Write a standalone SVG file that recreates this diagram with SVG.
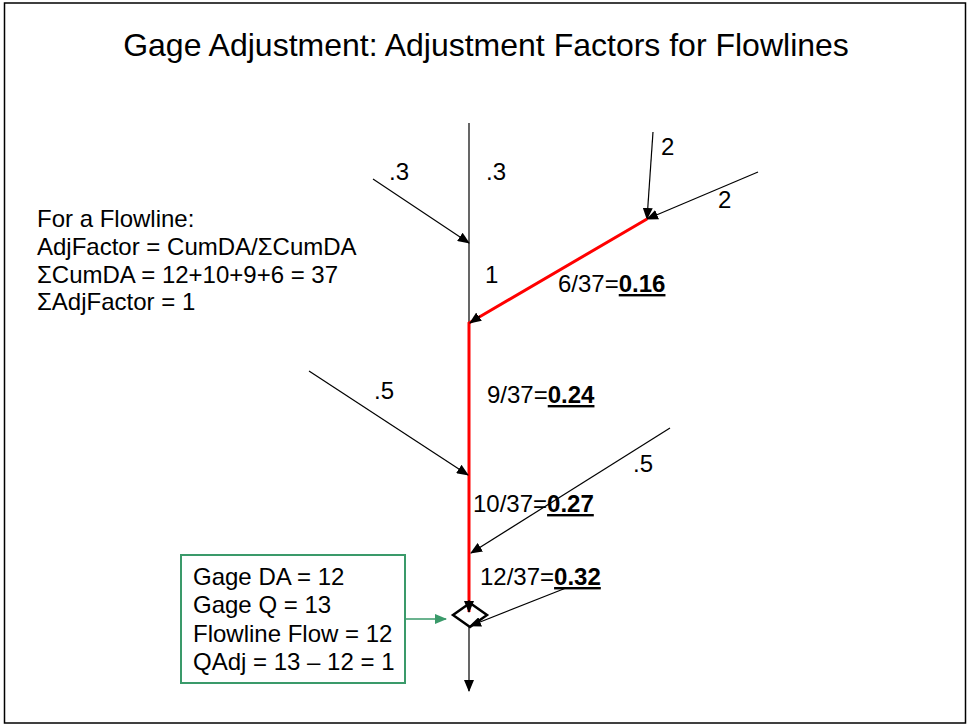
<svg xmlns="http://www.w3.org/2000/svg" width="967" height="725" viewBox="0 0 967 725">
<style>
text{font-family:"Liberation Sans",Arial,sans-serif;fill:#000}
.t{font-size:32px}
.l{font-size:24px}
.b{font-weight:bold;text-decoration:underline}
.ln{stroke:#000;stroke-width:1.2;fill:none}
.red{stroke:#ff0000;stroke-width:3;fill:none}
</style>
<defs>
<marker id="ah" markerUnits="userSpaceOnUse" markerWidth="12" markerHeight="10" viewBox="0 0 12 10" refX="11" refY="5" orient="auto">
<path d="M0,0 L12,5 L0,10 Z" fill="#000"/>
</marker>
<marker id="ahg" markerUnits="userSpaceOnUse" markerWidth="12" markerHeight="10" viewBox="0 0 12 10" refX="11" refY="5" orient="auto">
<path d="M0,0 L12,5 L0,10 Z" fill="#3a9a6a"/>
</marker>
</defs>
<rect x="4.5" y="3" width="961" height="720" fill="#fff" stroke="#000" stroke-width="1.5"/>
<text class="t" x="486" y="56" text-anchor="middle">Gage Adjustment: Adjustment Factors for Flowlines</text>
<g id="notes">
<text class="l" x="37" y="227">For a Flowline:</text>
<text class="l" x="37" y="255">AdjFactor = CumDA/ΣCumDA</text>
<text class="l" x="37" y="283">ΣCumDA = 12+10+9+6 = 37</text>
<text class="l" x="37" y="310">ΣAdjFactor = 1</text>
</g>
<g id="connectors">
<line class="ln" x1="469" y1="123" x2="469" y2="323"/>
<line class="ln" x1="373" y1="179" x2="469" y2="243" marker-end="url(#ah)"/>
<line class="ln" x1="653" y1="132" x2="647" y2="219" marker-end="url(#ah)"/>
<line class="ln" x1="758" y1="172" x2="647" y2="219" marker-end="url(#ah)"/>
<polyline class="red" points="647,219 469,323 469,612"/>
<line class="ln" x1="480" y1="316" x2="470" y2="323" marker-end="url(#ah)"/>
<line class="ln" x1="309" y1="371" x2="468" y2="475" marker-end="url(#ah)"/>
<line class="ln" x1="670" y1="428" x2="471" y2="553" marker-end="url(#ah)"/>
<line class="ln" x1="469" y1="600" x2="469" y2="612" marker-end="url(#ah)"/>
<line class="ln" x1="566" y1="588" x2="470" y2="626" marker-end="url(#ah)"/>
<line class="ln" x1="469" y1="627" x2="469" y2="691" marker-end="url(#ah)"/>
<line x1="405" y1="619" x2="446" y2="619" stroke="#3a9a6a" stroke-width="1.5" marker-end="url(#ahg)"/>
</g>
<g id="gage">
<polygon points="453,615 470,603 487,615 470,627" fill="none" stroke="#000" stroke-width="2.5"/>
</g>
<g id="labels">
<text class="l" x="389" y="180">.3</text>
<text class="l" x="486" y="180">.3</text>
<text class="l" x="485" y="283">1</text>
<text class="l" x="661" y="155">2</text>
<text class="l" x="718" y="208">2</text>
<text class="l" x="374" y="399">.5</text>
<text class="l" x="633" y="472">.5</text>
<text class="l" x="558" y="292">6/37=<tspan class="b">0.16</tspan></text>
<text class="l" x="487" y="403">9/37=<tspan class="b">0.24</tspan></text>
<text class="l" x="473" y="512">10/37=<tspan class="b">0.27</tspan></text>
<text class="l" x="480" y="585">12/37=<tspan class="b">0.32</tspan></text>
</g>
<g id="gagebox">
<rect x="181" y="555" width="224" height="128" fill="#fff" stroke="#3a9a6a" stroke-width="2"/>
<text class="l" x="193" y="585">Gage DA = 12</text>
<text class="l" x="193" y="613">Gage Q = 13</text>
<text class="l" x="193" y="642">Flowline Flow = 12</text>
<text class="l" x="193" y="670">QAdj = 13 – 12 = 1</text>
</g>
</svg>
